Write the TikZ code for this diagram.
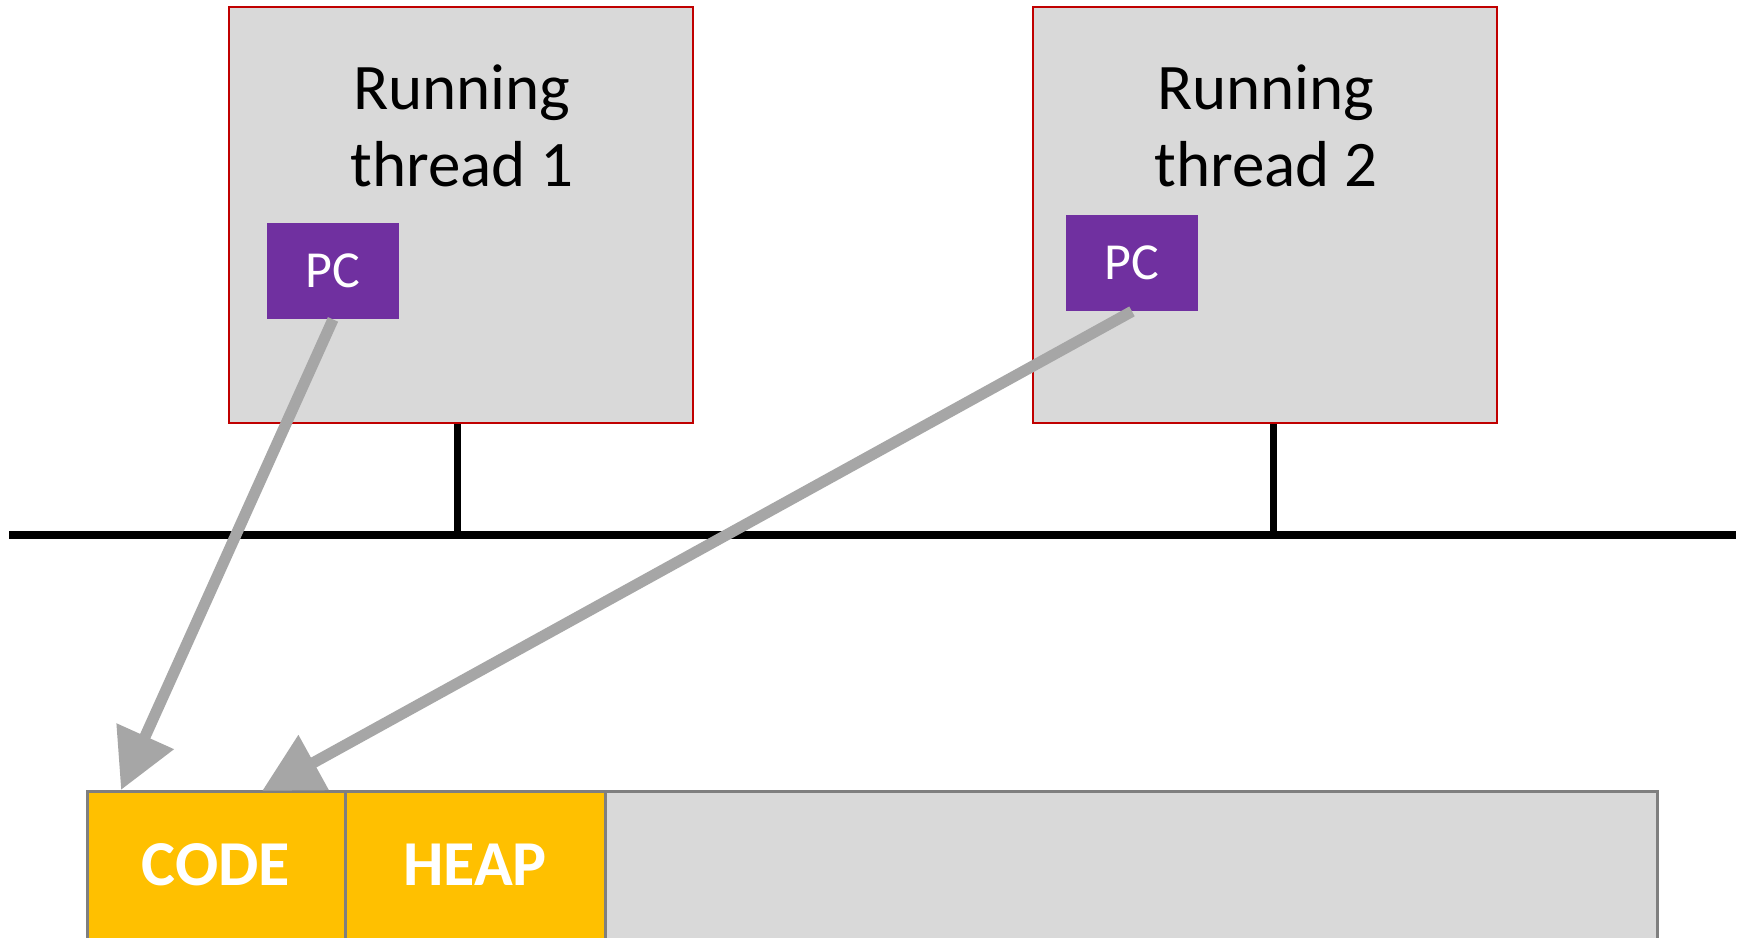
\documentclass[tikz,border=0pt]{standalone}
\usepackage{fontspec}
\setmainfont{Carlito}
\usetikzlibrary{arrows.meta}
\definecolor{boxgray}{HTML}{D9D9D9}
\definecolor{boxred}{HTML}{C00000}
\definecolor{pcpurple}{HTML}{7030A0}
\definecolor{memyellow}{HTML}{FFC000}
\definecolor{arrowgray}{HTML}{A6A6A6}
\definecolor{bargray}{HTML}{7F7F7F}
\tikzset{
  threadbox/.style={draw=boxred, line width=1pt, fill=boxgray, rectangle, minimum width=232pt, minimum height=208pt, inner sep=0pt},
  pcbox/.style={fill=pcpurple, rectangle, minimum width=66pt, minimum height=48pt, inner sep=0pt, text=white, font=\fontsize{26}{30}\selectfont},
  titletext/.style={anchor=base, inner sep=0pt, font=\fontsize{32.5}{38}\selectfont},
  memseg/.style={draw=bargray, line width=1.5pt, rectangle, inner sep=0pt, minimum height=100pt},
  memtext/.style={anchor=base, inner sep=0pt, text=white, font=\fontsize{32}{38}\selectfont\bfseries},
  busline/.style={line width=4pt, black},
  pcarrow/.style={draw=arrowgray, line width=5.6pt, -{Triangle[length=29.5pt,width=30pt]}, arrowgray},
}
\begin{document}
\begin{tikzpicture}[x=0.5pt,y=-0.5pt]
\clip (0,0) rectangle (1745,937);
\fill[white] (0,0) rectangle (1745,937);
% memory bar
\node[memseg, fill=memyellow, minimum width=129pt, anchor=north west] (code) at (86,790) {};
\node[memseg, fill=memyellow, minimum width=130pt, anchor=north west] (heap) at (344,790) {};
\node[memseg, fill=boxgray, minimum width=526pt, anchor=north west] (rest) at (604,790) {};
\node[memtext] (codet) at (216,885) {CODE};
\node[memtext] (heapt) at (475,885) {HEAP};
% thread boxes
\node[threadbox] (th1) at (461,215) {};
\node[threadbox] (th2) at (1264.5,215) {};
\node[titletext] (t1a) at (462,109) {Running};
\node[titletext] (t1b) at (462,186) {thread 1};
\node[titletext] (t2a) at (1266,109) {Running};
\node[titletext] (t2b) at (1266,186) {thread 2};
\node[pcbox] (pc1) at (333,271) {PC};
\node[pcbox] (pc2) at (1132,263) {PC};
% bus
\coordinate (busL) at (9,535);
\coordinate (busR) at (1736,535);
\coordinate (j1) at (457,535);
\coordinate (j2) at (1273,535);
\draw[busline] (busL) -- (busR);
\draw[line width=3.5pt] (j1) -- (j1 |- th1.south);
\draw[line width=3.5pt] (j2) -- (j2 |- th2.south);
% arrows
\coordinate (tip1) at (121,790);
\coordinate (tip2) at (262,791);
\draw[pcarrow] (pc1.south) -- (tip1);
\draw[pcarrow] (pc2.south) -- (tip2);
\end{tikzpicture}
\end{document}
